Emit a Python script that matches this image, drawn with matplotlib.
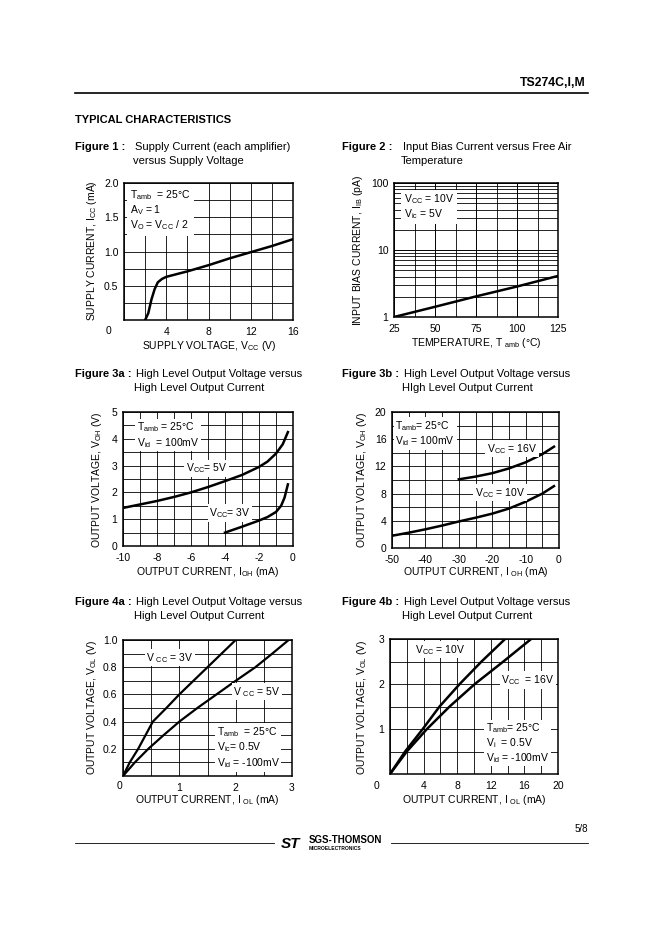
import matplotlib
matplotlib.use("Agg")
import matplotlib.pyplot as plt
import numpy as np

plt.rcParams['font.family'] = ['Liberation Sans', 'DejaVu Sans']
plt.rcParams['mathtext.fontset'] = 'custom'
plt.rcParams['mathtext.rm'] = 'Liberation Sans'
plt.rcParams['mathtext.it'] = 'Liberation Sans:italic'
plt.rcParams['mathtext.bf'] = 'Liberation Sans:bold'
plt.rcParams['axes.unicode_minus'] = False

# ---- data ----
# Figure 1: supply current vs supply voltage
f1_vcc = [2.0, 2.3, 2.6, 2.9, 3.2, 3.6, 4.0, 6.0, 8.0, 10.0, 12.0, 14.0, 16.0]
f1_icc = [0.0, 0.1, 0.3, 0.45, 0.55, 0.6, 0.63, 0.71, 0.8, 0.9, 0.99, 1.08, 1.18]

# Figure 2: input bias current vs temperature
f2_temp = [25, 50, 75, 100, 125]
f2_iib = [1.0, 1.42, 2.03, 2.85, 4.1]

# Figure 3a: VOH vs IOH
f3a_i5 = [-10, -9, -8, -7, -6, -5, -4, -3, -2, -1.5, -1, -0.6, -0.3]
f3a_v5 = [1.42, 1.55, 1.68, 1.83, 2.0, 2.2, 2.42, 2.65, 2.95, 3.15, 3.45, 3.8, 4.25]
f3a_i3 = [-4, -3, -2, -1.5, -1, -0.7, -0.5, -0.3]
f3a_v3 = [0.5, 0.72, 0.95, 1.08, 1.27, 1.5, 1.8, 2.3]

# Figure 3b: VOH vs IOH
f3b_i16 = [-30, -25, -20, -15, -10, -5, -1.5]
f3b_v16 = [10.1, 10.5, 11.0, 11.7, 12.6, 13.8, 14.9]
f3b_i10 = [-50, -45, -40, -35, -30, -25, -20, -15, -10, -5, -1.5]
f3b_v10 = [1.8, 2.25, 2.75, 3.3, 3.9, 4.45, 5.05, 5.8, 6.8, 8.0, 9.1]

# Figure 4a: VOL vs IOL
f4a_i3 = [0, 0.12, 0.27, 0.53, 0.77, 1.0, 1.25, 1.5, 1.75, 2.0]
f4a_v3 = [0, 0.1, 0.2, 0.4, 0.5, 0.6, 0.7, 0.8, 0.9, 1.0]
f4a_i5 = [0, 0.21, 0.45, 0.72, 1.0, 1.32, 1.66, 2.0, 2.35, 2.65, 2.94]
f4a_v5 = [0, 0.1, 0.2, 0.3, 0.4, 0.5, 0.6, 0.7, 0.8, 0.9, 1.0]

# Figure 4b: VOL vs IOL
f4b_i10 = [0, 1.8, 3.9, 5.9, 8.3, 10.9, 13.7]
f4b_v10 = [0, 0.5, 1.0, 1.5, 2.0, 2.5, 3.0]
f4b_i16 = [0, 2.0, 4.4, 7.1, 10.1, 13.5, 16.8]
f4b_v16 = [0, 0.5, 1.0, 1.5, 2.0, 2.5, 3.0]

W, H = 662, 936
fig = plt.figure(figsize=(W / 100, H / 100), dpi=100)
FS = 7.5
CAP = 8
white = dict(facecolor='white', edgecolor='none', pad=1.2)


def ftext(x, y, s, **kw):
    kw.setdefault('fontsize', FS)
    kw.setdefault('va', 'center')
    return fig.text(x / W, 1 - y / H, s, **kw)


def px_axes(l, t, r, b):
    return fig.add_axes([l / W, 1 - b / H, (r - l) / W, (b - t) / H])


def style(ax, xlim, ylim, xgrid, ygrid, xticks, yticks, xtl=None, ytl=None):
    ax.set_xlim(*xlim)
    ax.set_ylim(*ylim)
    ax.set_xticks(xgrid, minor=True)
    ax.set_yticks(ygrid, minor=True)
    ax.set_xticks(xticks)
    ax.set_yticks(yticks)
    if xtl is not None:
        ax.set_xticklabels(xtl)
    if ytl is not None:
        ax.set_yticklabels(ytl)
    ax.grid(which='both', color='black', lw=0.6)
    ax.set_axisbelow(True)
    ax.tick_params(which='both', length=0, labelsize=FS)
    ax.tick_params(axis='x', pad=5)
    ax.tick_params(axis='y', pad=4)
    for sp in ax.spines.values():
        sp.set_linewidth(1.1)


def caption(x, y, tag, l1, l2, x2):
    ftext(x, y, tag, fontweight='bold', fontsize=CAP)
    ftext(x2, y, l1, fontsize=CAP)
    ftext(x2 - 2, y + 14, l2, fontsize=CAP)


# ---- header ----
ftext(586, 83, 'TS274C,I,M', ha='right', fontweight='bold', fontsize=8.8)
fig.add_artist(plt.Line2D([75 / W, 588 / W], [1 - 93 / H, 1 - 93 / H], color='black', lw=1.2))
ftext(75, 120, 'TYPICAL CHARACTERISTICS', fontweight='bold', fontsize=8)

# ---- Figure 1 ----
caption(75, 147, 'Figure 1 :', 'Supply Current (each amplifier)', 'versus Supply Voltage', 135)
ax = px_axes(124, 183, 293, 320)
style(ax, (0, 16), (0, 2.0), np.arange(0, 17, 2), np.arange(0, 2.01, 0.25),
      [4, 8, 12, 16], [0.5, 1.0, 1.5, 2.0], ytl=['0.5', '1.0', '1.5', '2.0'])
ax.plot(f1_vcc, f1_icc, color='black', lw=1.8, solid_capstyle='round')
ax.text(0.6, 1.93, 'T$_{\\rm amb}$  = 25°C\nA$_{\\rm V}$ = 1\nV$_{\\rm O}$ = V$_{\\rm CC}$ / 2',
        fontsize=FS, va='top', ha='left', linespacing=1.15,
        bbox=dict(facecolor='white', edgecolor='none', pad=2.5))
ftext(106, 331, '0')
ftext(92, 251, 'SUPPLY CURRENT, I$_{\\rm CC}$ (mA)', rotation=90, ha='center')
ftext(209, 346, 'SUPPLY VOLTAGE, V$_{\\rm CC}$ (V)', ha='center')

# ---- Figure 2 ----
caption(342, 147, 'Figure 2 :', 'Input Bias Current versus Free Air', 'Temperature', 403)
ax = px_axes(394, 183, 558, 317)
ax.set_yscale('log')
ygrid2 = [m * d for d in (1, 10) for m in range(1, 10)] + [100]
style(ax, (25, 125), (1, 100), np.arange(25, 126, 12.5), ygrid2,
      [25, 50, 75, 100, 125], [1, 10, 100], ytl=['1', '10', '100'])
ax.minorticks_off()
for g in ygrid2:
    ax.axhline(g, color='black', lw=0.6, zorder=0.5)
for g in np.arange(25, 126, 12.5):
    ax.axvline(g, color='black', lw=0.6, zorder=0.5)
ax.plot(f2_temp, f2_iib, color='black', lw=1.8)
ax.text(31, 72, 'V$_{\\rm CC}$ = 10V\nV$_{\\rm ic}$ = 5V', fontsize=FS, va='top', ha='left',
        linespacing=1.1, bbox=dict(facecolor='white', edgecolor='none', pad=2))
ftext(358, 250, 'INPUT BIAS CURRENT, I$_{\\rm IB}$ (pA)', rotation=90, ha='center')
ftext(476, 343, 'TEMPERATURE, T $_{\\rm amb}$ (°C)', ha='center')

# ---- Figure 3a ----
caption(75, 374, 'Figure 3a :', 'High Level Output Voltage versus', 'High Level Output Current', 136)
ax = px_axes(123, 412, 293, 546)
style(ax, (-10, 0), (0, 5), np.arange(-10, 0.1, 1), np.arange(0, 5.01, 0.5),
      [-10, -8, -6, -4, -2, 0], [0, 1, 2, 3, 4, 5])
ax.plot(f3a_i5, f3a_v5, color='black', lw=1.8)
ax.plot(f3a_i3, f3a_v3, color='black', lw=1.8)
ax.text(-9.2, 4.68, 'T$_{\\rm amb}$ = 25°C\nV$_{\\rm id}$  = 100mV', fontsize=FS, va='top',
        linespacing=1.15, bbox=white)
ax.text(-5.1, 2.9, 'V$_{\\rm CC}$= 5V', fontsize=FS, ha='center', va='center', bbox=white)
ax.text(-3.7, 1.23, 'V$_{\\rm CC}$= 3V', fontsize=FS, ha='center', va='center', bbox=white)
ftext(97, 480, 'OUTPUT VOLTAGE, V$_{\\rm OH}$ (V)', rotation=90, ha='center')
ftext(207, 572, 'OUTPUT CURRENT, I$_{\\rm OH}$ (mA)', ha='center')

# ---- Figure 3b ----
caption(342, 374, 'Figure 3b :', 'High Level Output Voltage versus', 'HIgh Level Output Current', 404)
ax = px_axes(392, 412, 559, 548)
style(ax, (-50, 0), (0, 20), np.arange(-50, 0.1, 5), np.arange(0, 20.1, 2),
      [-50, -40, -30, -20, -10, 0], [0, 4, 8, 12, 16, 20])
ax.plot(f3b_i16, f3b_v16, color='black', lw=1.8)
ax.plot(f3b_i10, f3b_v10, color='black', lw=1.8)
ax.text(-49, 19.0, 'T$_{\\rm amb}$= 25°C\nV$_{\\rm id}$ = 100mV', fontsize=FS, va='top',
        linespacing=1.15, bbox=white)
ax.text(-14.1, 14.6, 'V$_{\\rm CC}$ = 16V', fontsize=FS, ha='center', va='center', bbox=white)
ax.text(-17.7, 8.1, 'V$_{\\rm CC}$ = 10V', fontsize=FS, ha='center', va='center', bbox=white)
ftext(362, 480, 'OUTPUT VOLTAGE, V$_{\\rm OH}$ (V)', rotation=90, ha='center')
ftext(476, 572, 'OUTPUT CURRENT, I $_{\\rm OH}$ (mA)', ha='center')

# ---- Figure 4a ----
caption(75, 602, 'Figure 4a :', 'High Level Output Voltage versus', 'High Level Output Current', 136)
ax = px_axes(123, 640, 292, 776)
style(ax, (0, 3), (0, 1.0), np.arange(0, 3.01, 0.5), np.arange(0, 1.01, 0.1),
      [1, 2, 3], [0.2, 0.4, 0.6, 0.8, 1.0], ytl=['0.2', '0.4', '0.6', '0.8', '1.0'])
ax.plot(f4a_i3, f4a_v3, color='black', lw=1.6)
ax.plot(f4a_i5, f4a_v5, color='black', lw=1.6)
ax.text(0.83, 0.87, 'V $_{\\rm CC}$ = 3V', fontsize=FS, ha='center', va='center', bbox=white)
ax.text(2.38, 0.62, 'V $_{\\rm CC}$ = 5V', fontsize=FS, ha='center', va='center', bbox=white)
ax.text(1.66, 0.21, 'T$_{\\rm amb}$  = 25°C\nV$_{\\rm ic}$= 0.5V\nV$_{\\rm id}$ = -100mV', fontsize=FS,
        ha='left', va='center', linespacing=1.2, bbox=white)
ftext(117, 786, '0')
ftext(92, 707, 'OUTPUT VOLTAGE, V$_{\\rm OL}$ (V)', rotation=90, ha='center')
ftext(207, 800, 'OUTPUT CURRENT, I $_{\\rm OL}$ (mA)', ha='center')

# ---- Figure 4b ----
caption(342, 602, 'Figure 4b :', 'High Level Output Voltage versus', 'High Level Output Current', 404)
ax = px_axes(390, 639, 558, 774)
style(ax, (0, 20), (0, 3), np.arange(0, 20.1, 2), np.arange(0, 3.01, 0.5),
      [4, 8, 12, 16, 20], [1, 2, 3])
ax.plot(f4b_i10, f4b_v10, color='black', lw=1.8)
ax.plot(f4b_i16, f4b_v16, color='black', lw=1.8)
ax.text(5.95, 2.76, 'V$_{\\rm CC}$ = 10V', fontsize=FS, ha='center', va='center', bbox=white)
ax.text(16.4, 2.09, 'V$_{\\rm CC}$  = 16V', fontsize=FS, ha='center', va='center', bbox=white)
ax.text(11.4, 0.69, 'T$_{\\rm amb}$= 25°C\nV$_{\\rm i}$  = 0.5V\nV$_{\\rm id}$ = -100mV', fontsize=FS,
        ha='left', va='center', linespacing=1.1, bbox=white)
ftext(374, 786, '0')
ftext(362, 707, 'OUTPUT VOLTAGE, V$_{\\rm OL}$ (V)', rotation=90, ha='center')
ftext(474, 800, 'OUTPUT CURRENT, I $_{\\rm OL}$ (mA)', ha='center')

# ---- footer ----
fig.add_artist(plt.Line2D([75 / W, 274 / W], [1 - 843 / H, 1 - 843 / H], color='black', lw=0.6))
fig.add_artist(plt.Line2D([391 / W, 588 / W], [1 - 843 / H, 1 - 843 / H], color='black', lw=0.6))
ftext(291, 844, 'ST', ha='center', fontweight='bold', style='italic', fontsize=11)
ftext(309, 840, 'SGS-THOMSON', ha='left', fontweight='bold', fontsize=7)
ftext(309, 848, 'MICROELECTRONICS', ha='left', fontweight='bold', fontsize=3.6)
ftext(588, 829, '5/8', ha='right', fontsize=7)

fig.savefig('out.png', dpi=100, facecolor='white')
